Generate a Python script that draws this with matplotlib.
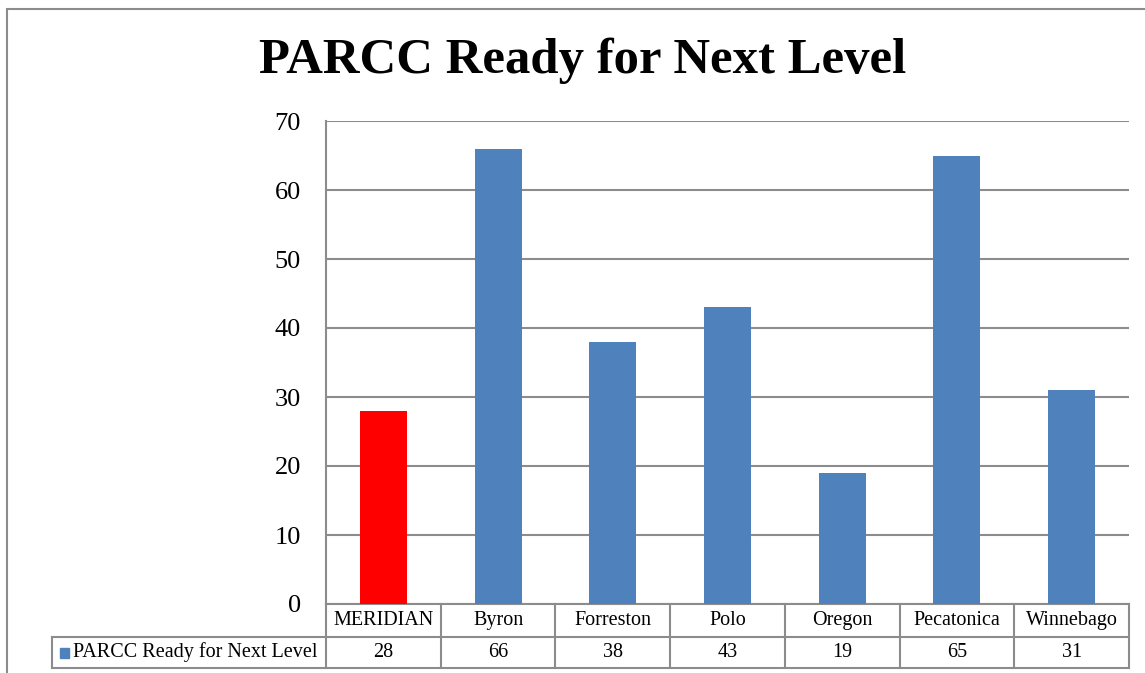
import matplotlib.pyplot as plt
from matplotlib.patches import Rectangle
from matplotlib.transforms import blended_transform_factory

# data
schools = ['MERIDIAN', 'Byron', 'Forreston', 'Polo', 'Oregon', 'Pecatonica', 'Winnebago']
ready = [28, 66, 38, 43, 19, 65, 31]
series_name = 'PARCC Ready for Next Level'
yticks = [0, 10, 20, 30, 40, 50, 60, 70]

blue = '#4F81BD'
red = '#FF0000'
grid = '#8C8C8C'

plt.rcParams['font.family'] = ['Liberation Serif', 'DejaVu Serif']

fig = plt.figure(figsize=(11.45, 6.73), dpi=100)
ax = fig.add_axes([326/1145, 1-604/673, (1129-326)/1145, (604-121)/673])

colors = [red] + [blue]*(len(schools)-1)
ax.bar(range(len(schools)), ready, width=0.41, color=colors, zorder=3)

ax.set_xlim(-0.5, len(schools)-0.5)
ax.set_ylim(0, 70)
ax.set_yticks(yticks)
ax.set_yticklabels([str(v) for v in yticks], fontsize=19)
ax.tick_params(axis='y', length=0, pad=18)
ax.set_xticks([])
ax.yaxis.grid(True, color=grid, lw=1.5, zorder=0)
for s in ['top', 'right', 'bottom']:
    ax.spines[s].set_visible(False)
ax.spines['left'].set_color(grid)
ax.spines['left'].set_linewidth(1.5)

# data table under the plot
tr = blended_transform_factory(ax.transData, ax.transAxes)
h = 604 - 121
r1 = -33/h
r2 = -64/h
leg_left = (52-326)/803
kw = dict(color=grid, lw=1.5, clip_on=False)
n = len(schools)
fs = 14.5
ax.plot([-0.5, n-0.5], [0, 0], transform=tr, **kw)
ax.plot([-0.5, n-0.5], [r1, r1], transform=tr, **kw)
ax.plot([-0.5, n-0.5], [r2, r2], transform=tr, **kw)
ax.plot([leg_left, 0], [r1, r1], transform=ax.transAxes, **kw)
ax.plot([leg_left, 0], [r2, r2], transform=ax.transAxes, **kw)
ax.plot([leg_left, leg_left], [r1, r2], transform=ax.transAxes, **kw)
for k in range(n+1):
    ax.plot([k-0.5, k-0.5], [0, r2], transform=tr, **kw)
for i, (s, v) in enumerate(zip(schools, ready)):
    ax.text(i, r1/2, s, transform=tr, ha='center', va='center', fontsize=fs)
    ax.text(i, (r1+r2)/2, str(v), transform=tr, ha='center', va='center', fontsize=fs)
ax.add_patch(Rectangle((leg_left + 8/803, (r1+r2)/2 - 5/h), 9/803, 10/h,
                       transform=ax.transAxes, color=blue, clip_on=False))
ax.text(leg_left + 21/803, (r1+r2)/2, series_name, transform=ax.transAxes,
        ha='left', va='center', fontsize=fs)

fig.text(0.509, 1-61/673, 'PARCC Ready for Next Level', ha='center', va='center',
         fontsize=36.5, fontweight='bold')

# outer chart border
fig.add_artist(Rectangle((7/1145, -0.1), 1.2, 1-9/673+0.1, transform=fig.transFigure,
                         fill=False, edgecolor=grid, lw=1.5))

fig.savefig('out.png', dpi=100)
